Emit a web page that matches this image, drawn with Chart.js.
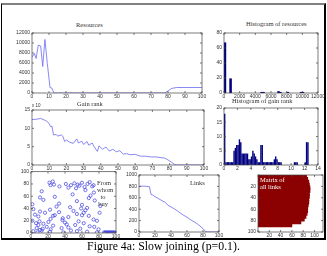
<!DOCTYPE html>
<html>
<head>
<meta charset="utf-8">
<script src="https://cdn.jsdelivr.net/npm/chart.js@4.4.1/dist/chart.umd.min.js"></script>
<style>
  body { margin: 0; width: 327px; height: 256px; background: #fff; position: relative; overflow: hidden; }
  .frame { position: absolute; left: 1px; top: 3px; width: 325px; height: 237px; box-sizing: border-box;
           border-top: 2px solid #808080; border-left: 1px solid #000; border-right: 2px solid #000; border-bottom: 2px solid #000; }
  .box { position: absolute; }
  .lbl { position: absolute; white-space: nowrap; font-family: "Liberation Serif", serif; font-size: 6.5px; color: #333; line-height: 1; }
  .caption { position: absolute; left: 0; width: 327px; top: 241px; text-align: center;
             font-family: "Liberation Serif", serif; font-size: 11.8px; color: #000; line-height: 1; }
</style>
</head>
<body>
<div class="frame"></div>

<div class="box" style="left:2px;top:29px;width:206px;height:74px"><canvas id="resChart" width="206" height="74"></canvas></div>
<div class="box" style="left:210px;top:29px;width:116px;height:74px"><canvas id="resHistChart" width="116" height="74"></canvas></div>
<div class="box" style="left:2px;top:106px;width:206px;height:69px"><canvas id="gainChart" width="206" height="69"></canvas></div>
<div class="box" style="left:210px;top:104px;width:116px;height:71px"><canvas id="gainHistChart" width="116" height="71"></canvas></div>
<div class="box" style="left:11px;top:167px;width:110px;height:74px"><canvas id="whomChart" width="110" height="74"></canvas></div>
<div class="box" style="left:117px;top:171px;width:107px;height:70px"><canvas id="linksChart" width="107" height="70"></canvas></div>
<div class="box" style="left:242px;top:171px;width:83px;height:70px"><canvas id="matrixChart" width="83" height="70"></canvas></div>

<div class="lbl" style="left:76px;top:22px">Resources</div>
<div class="lbl" style="left:246px;top:20.5px">Histogram of resources</div>
<div class="lbl" style="left:77px;top:100.5px">Gain rank</div>
<div class="lbl" style="left:232px;top:98px">Histogram of gain rank</div>
<div class="lbl" style="left:32px;top:104px;font-family:'Liberation Sans',sans-serif;font-size:4.5px">x 10</div>
<div class="lbl" style="left:97px;top:179px;text-align:center;width:12px;line-height:7px">From<br>whom<br>to<br>buy</div>
<div class="lbl" style="left:190px;top:180px">Links</div>
<div class="lbl" style="left:260px;top:176px;color:#fff;line-height:7px">Matrix of<br>all links</div>
<div class="caption">Figure 4a: Slow joining (p=0.1).</div>

<script>
// Resources by gain rank
const resRank = [0, 1.4, 2.4, 3.7, 5.1, 6.3, 7.6, 9, 10.6, 11.6, 12.9, 78, 80, 82, 85, 100];
const resValues = [7200, 7900, 6900, 9600, 9400, 5300, 10700, 5900, 1100, 1000, 0, 0, 400, 900, 1100, 1100];

// Histogram of resources
const resHistBins = [120, 840, 4800, 5040, 6960, 7200, 8160, 9840, 10080];
const resHistCounts = [67, 19, 1, 1, 2, 1, 1, 1, 1];

// Gain rank curve
const gainX = [0, 3, 5, 8, 9, 10, 11, 11.6, 12.5, 14, 15, 17, 18, 19, 20, 22, 24, 26, 27, 29, 30, 32, 33, 35, 36, 38, 39,
  41, 43, 45, 47, 49, 51, 53, 55, 57, 60, 63, 66, 69, 72, 75, 77, 79, 81, 83, 84, 100];
const gainY = [12.4, 12.5, 12.7, 12.1, 11.8, 11.2, 10.4, 10.6, 8.2, 8.3, 7.9, 8.2, 7.8, 6.4, 6.8, 6.2, 5.9, 7.1, 6.0, 6.5, 5.6, 6.4, 5.4, 6.0, 5.1, 3.7, 5.2,
  4.3, 4.9, 3.8, 4.3, 3.6, 3.9, 3.0, 3.1, 2.8, 2.9, 2.4, 2.4, 2.2, 2.2, 2.0, 1.9, 1.4, 0.8, 0.1, 0, 0];

// Histogram of gain rank
const gainHistBins = [0.1, 0.3, 0.5, 0.7, 0.9, 1.1, 1.3, 1.5, 1.7, 1.9, 2.1, 2.3, 2.5, 2.7, 2.9, 3.1, 3.3, 3.5, 3.7, 3.9,
  4.1, 4.3, 4.5, 4.7, 4.9, 5.1, 5.3, 5.5, 5.7, 5.9, 6.1, 6.3, 6.5, 6.7, 6.9, 7.1, 7.3, 7.5, 7.7, 7.9, 8.1, 8.3, 8.5,
  10.5, 10.7, 10.9, 12.1, 12.3, 12.5];
const gainHistCounts = [18, 1, 1, 1, 1, 1, 1, 5, 6, 7, 7, 9, 8, 4, 4, 4, 4, 4, 2, 2,
  3, 5, 4, 3, 2, 1, 1, 7, 7, 1, 1, 1, 1, 1, 1, 1, 1, 2, 3, 2, 1, 1, 1,
  1, 1, 1, 1, 8, 8];

// From whom to buy (scatter)
const whomX = [21.7, 23, 25.6, 27, 33.5, 41, 44, 47, 51, 53, 55, 57, 60, 63, 66.5, 69, 72, 73.6,
  12.6, 49, 64, 70, 74,
  10.6, 14.6, 28, 54, 68, 75,
  1.6, 30, 33, 46, 60, 66, 81.5,
  2.8, 10.6, 22.4, 50, 59, 62, 64,
  4.7, 16.5, 28, 33, 54, 68, 80.7,
  8.7, 23, 26, 37.4, 44, 60, 73.6,
  1.6, 6, 10, 14.6, 20.5, 37, 40, 42, 56, 62, 77.6,
  8.7, 18.5, 26, 44, 52, 69, 74.4,
  6.7, 10.6, 13.8, 23.2, 36, 47, 58, 79.5,
  2.8, 7.5, 12.6, 22.4, 38, 54, 66, 77.6,
  86, 87, 88, 89, 90, 91, 92, 93, 94, 95, 96, 97, 98, 99];
const whomY = [82, 78, 84, 79, 76, 80, 74, 78, 81, 73, 79, 77, 82, 75, 80, 83, 76, 78,
  68, 63, 70, 61, 66,
  58, 54, 59, 52, 57, 53,
  47, 43, 48, 42, 46, 41, 44,
  39, 35, 38, 36, 40, 33, 37,
  30, 33, 29, 34, 31, 28, 33,
  27, 23, 28, 24, 26, 29, 22,
  20, 16, 19, 15, 18, 21, 17, 14, 19, 16, 20,
  13, 10, 12, 9, 13, 11, 10,
  8, 5, 7, 6, 8, 4, 7, 6,
  3, 1, 4, 2, 1, 3, 2, 1,
  1, 0.5, 1, 0.5, 1, 0.5, 1, 0.5, 1, 0.5, 1, 0.5, 1, 0.5];

// Links
const linkX = [0, 5, 10, 13, 15, 17, 20, 25, 30, 33, 36, 40, 45, 50, 55, 60, 65, 70, 75, 80, 83, 85, 100];
const linkY = [800, 805, 800, 795, 660, 650, 620, 580, 540, 520, 470, 440, 400, 350, 300, 260, 210, 170, 120, 60, 10, 0, 0];

// Matrix of all links: row band, right edge of the filled cells
const matrixRows = [2.5, 7.5, 12.5, 17.5, 22.5, 27.5, 32.5, 37.5, 42.5, 47.5, 52.5, 57.5, 62.5, 67.5, 72.5, 77.5, 82.5, 87.5];
const matrixRight = [86, 88, 90, 91, 92, 92, 91, 91, 90, 90, 89, 88, 88, 87, 85, 82, 76, 60];
// lower rows where links are sparser
const sparseRows = [57.5, 62.5, 67.5, 72.5, 77.5, 82.5, 87.5];
const sparseRight = [40, 55, 65, 70, 70, 65, 55];

const lineBlue = "#6b6bf2";
const navy = "#000080";
const darkRed = "#8b0000";
const tickFont = { family: "Liberation Sans", size: 5 };
const tickColor = "#333";

// Matlab style box with inward ticks
const boxPlugin = {
  id: "box",
  afterDraw(chart) {
    const { ctx, chartArea: a, scales } = chart;
    ctx.save();
    ctx.strokeStyle = "#444";
    ctx.lineWidth = 0.7;
    ctx.strokeRect(a.left, a.top, a.right - a.left, a.bottom - a.top);
    ctx.beginPath();
    scales.x.ticks.forEach(t => {
      const px = scales.x.getPixelForValue(t.value);
      ctx.moveTo(px, a.bottom); ctx.lineTo(px, a.bottom - 2);
      ctx.moveTo(px, a.top); ctx.lineTo(px, a.top + 2);
    });
    scales.y.ticks.forEach(t => {
      const py = scales.y.getPixelForValue(t.value);
      ctx.moveTo(a.left, py); ctx.lineTo(a.left + 2, py);
      ctx.moveTo(a.right, py); ctx.lineTo(a.right - 2, py);
    });
    ctx.stroke();
    ctx.restore();
  }
};

function axis(min, max, step, size, horizontal, extra) {
  return Object.assign({
    type: "linear", min: min, max: max, offset: false,
    grid: { display: false, drawTicks: false },
    border: { display: false },
    ticks: { stepSize: step, font: tickFont, color: tickColor, padding: horizontal ? 1 : 2,
             maxRotation: 0, autoSkip: false, includeBounds: false, callback: v => v },
    afterFit: s => {
      if (horizontal) { s.height = size; s.paddingLeft = 0; s.paddingRight = 0; }
      else { s.width = size; s.paddingTop = 0; s.paddingBottom = 0; }
    }
  }, extra || {});
}

function opts(x, y, padRight, extra) {
  return Object.assign({
    responsive: false,
    animation: false,
    devicePixelRatio: 1,
    layout: { padding: { top: 4, right: padRight, left: 0, bottom: 0 } },
    plugins: { legend: { display: false }, tooltip: { enabled: false } },
    scales: { x: x, y: y }
  }, extra || {});
}

function pairs(xs, ys) {
  return xs.map((x, i) => ({ x: x, y: ys[i] }));
}

// one floating bar per row band, from column 0 to the right edge
function rowBars(rights, rows) {
  return rows.map((r, i) => ({ y: r, x: [0, rights[i]] }));
}

document.addEventListener("DOMContentLoaded", function () {
  // Resources
  new Chart(document.getElementById("resChart"), {
    type: "scatter",
    data: { datasets: [{ data: pairs(resRank, resValues), showLine: true, borderColor: lineBlue,
      borderWidth: 0.8, pointRadius: 0, tension: 0 }] },
    options: opts(axis(0, 100, 10, 10, true), axis(0, 12000, 2000, 30, false), 6)
  , plugins: [boxPlugin] });

  // Histogram of resources
  new Chart(document.getElementById("resHistChart"), {
    type: "bar",
    data: { datasets: [{ data: pairs(resHistBins, resHistCounts), backgroundColor: navy,
      barPercentage: 1, categoryPercentage: 1 }] },
    options: opts(axis(0, 12000, 2000, 10, true), axis(0, 80, 20, 14, false), 8)
  , plugins: [boxPlugin] });

  // Gain rank
  new Chart(document.getElementById("gainChart"), {
    type: "scatter",
    data: { datasets: [{ data: pairs(gainX, gainY), showLine: true, borderColor: lineBlue,
      borderWidth: 0.8, pointRadius: 0, tension: 0 }] },
    options: opts(axis(0, 100, 10, 10, true), axis(0, 15, 5, 30, false), 4)
  , plugins: [boxPlugin] });

  // Histogram of gain rank
  new Chart(document.getElementById("gainHistChart"), {
    type: "bar",
    data: { datasets: [{ data: pairs(gainHistBins, gainHistCounts), backgroundColor: navy,
      barPercentage: 1.05, categoryPercentage: 1 }] },
    options: opts(axis(0, 14, 2, 10, true), axis(0, 20, 5, 14, false), 8)
  , plugins: [boxPlugin] });

  // From whom to buy
  new Chart(document.getElementById("whomChart"), {
    type: "scatter",
    data: { datasets: [{ data: pairs(whomX, whomY), pointRadius: 1.6, borderWidth: 0.7,
      borderColor: "#3c3cdc", backgroundColor: "rgba(0,0,0,0)" }] },
    options: opts(axis(0, 100, 20, 8, true), axis(0, 100, 20, 20, false), 5)
  , plugins: [boxPlugin] });

  // Links
  new Chart(document.getElementById("linksChart"), {
    type: "scatter",
    data: { datasets: [{ data: pairs(linkX, linkY), showLine: true, borderColor: lineBlue,
      borderWidth: 0.8, pointRadius: 0, tension: 0 }] },
    options: opts(axis(0, 100, 20, 9, true), axis(0, 1000, 200, 22, false), 5)
  , plugins: [boxPlugin] });

  // Matrix of all links
  const mx = axis(0, 115, 20, 9, true);
  const my = axis(0, 100, 20, 16, false, { reverse: true });
  mx.ticks.callback = v => (v === 0 ? "" : v);
  my.ticks.callback = v => (v === 0 ? "" : v);
  new Chart(document.getElementById("matrixChart"), {
    type: "bar",
    data: { datasets: [
      { data: rowBars(matrixRight, matrixRows), backgroundColor: darkRed,
        borderWidth: 0, barThickness: 4, grouped: false },
      { data: rowBars(sparseRight, sparseRows), backgroundColor: "rgba(255,225,225,0.3)",
        borderWidth: 0, barThickness: 4, grouped: false }
    ] },
    options: opts(mx, my, 2, { indexAxis: "y" })
  , plugins: [boxPlugin] });
});
</script>
</body>
</html>
